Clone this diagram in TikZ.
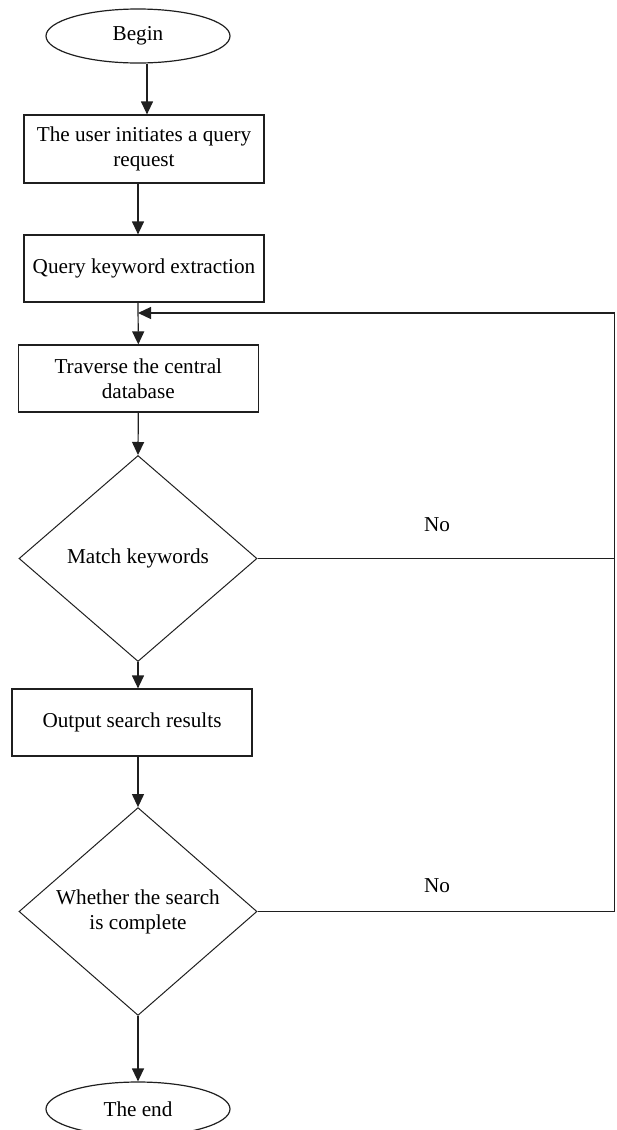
\documentclass[tikz,border=0pt]{standalone}
\usepackage{fontspec}
\setmainfont{Liberation Serif}
\usetikzlibrary{shapes.geometric,arrows.meta}
\begin{document}
\begin{tikzpicture}[x=1pt,y=-1pt,
  line width=1.2pt,
  every node/.style={font=\fontsize{21.2}{25}\selectfont, text=black},
  term/.style={draw=black!88, ellipse, inner sep=0pt, minimum width=184pt, minimum height=54pt},
  proc/.style={draw=black!88, rectangle, inner sep=0pt, minimum width=240pt, minimum height=67pt, align=center},
  decide/.style={draw=black!88, line width=1pt, diamond, inner sep=0pt, aspect=1, align=center},
  arr/.style={draw=black!88, -{Triangle[length=13pt,width=12pt]}},
  lin/.style={draw=black!88}
]
\useasboundingbox (0,0) rectangle (617,1130);
\node[term] (begin) at (138,36) {Begin};
\node[proc, minimum height=68pt] (b1) at (144,149) {The user initiates a query\\request};
\node[proc] (b2) at (144,268.5) {Query keyword extraction};
\node[proc] (b3) at (138.3,378.5) {Traverse the central\\database};
\node[decide, minimum width=238pt, minimum height=206pt] (d1) at (138,558.5) {Match keywords};
\node[proc] (b4) at (132,722.5) {Output search results};
\node[decide, minimum width=238pt, minimum height=203pt] (d2) at (138,911.5) {Whether the search\\is complete};
\node[term] (end) at (138,1109) {The end};
\node (no1) at (437,525) {No};
\node (no2) at (437,886) {No};
\coordinate (rc) at (614.5,313);
\coordinate (lp) at (138,313);

\draw[arr] ([xshift=9pt]begin.south) -- ([xshift=3pt]b1.north);
\draw[arr] ([xshift=-6pt]b1.south) -- ([xshift=-6pt]b2.north);
\draw[arr] ([xshift=-6pt]b2.south) -- (b3.north);
\draw[arr] (b3.south) -- (d1.north);
\draw[arr] (d1.south) -- ([xshift=6pt]b4.north);
\draw[arr] ([xshift=6pt]b4.south) -- (d2.north);
\draw[arr] (d2.south) -- (end.north);
\draw[lin] (d1.east) -- (d1.east -| rc);
\draw[arr] (d2.east) -- (d2.east -| rc) -- (rc) -- (lp);
\end{tikzpicture}
\end{document}
